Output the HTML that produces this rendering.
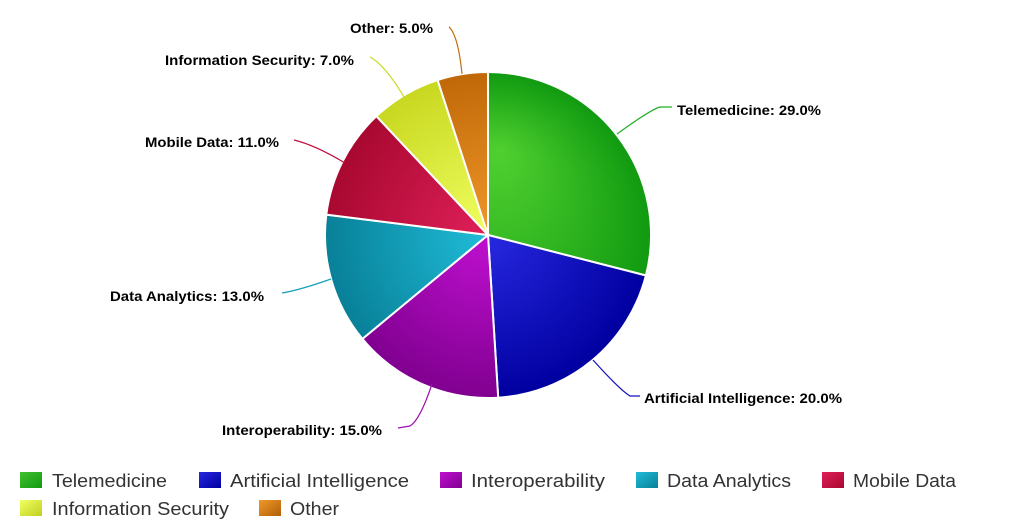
<!DOCTYPE html>
<html><head><meta charset="utf-8"><style>
body{margin:0;background:#fff;}
svg{display:block;font-family:"Liberation Sans",Arial,sans-serif;}
.lb{font-size:14px;font-weight:bold;fill:#000;}
.lg{font-size:18px;fill:#333;}
</style></head><body>
<svg width="1013" height="526" viewBox="0 0 1013 526">
<defs>
<radialGradient id="g0" cx="488" cy="235" r="163" fx="500" fy="150" gradientUnits="userSpaceOnUse"><stop offset="0" stop-color="#50d030"/><stop offset="1" stop-color="#109a10"/></radialGradient>
<radialGradient id="g1" cx="488" cy="235" r="163" gradientUnits="userSpaceOnUse"><stop offset="0" stop-color="#2828e0"/><stop offset="1" stop-color="#0000a0"/></radialGradient>
<radialGradient id="g2" cx="488" cy="235" r="163" gradientUnits="userSpaceOnUse"><stop offset="0" stop-color="#c010d0"/><stop offset="1" stop-color="#800090"/></radialGradient>
<radialGradient id="g3" cx="488" cy="235" r="163" gradientUnits="userSpaceOnUse"><stop offset="0" stop-color="#20bcd8"/><stop offset="1" stop-color="#088098"/></radialGradient>
<radialGradient id="g4" cx="488" cy="235" r="163" gradientUnits="userSpaceOnUse"><stop offset="0" stop-color="#e0205a"/><stop offset="1" stop-color="#a80830"/></radialGradient>
<radialGradient id="g5" cx="488" cy="235" r="163" gradientUnits="userSpaceOnUse"><stop offset="0" stop-color="#f0ff60"/><stop offset="1" stop-color="#c8d820"/></radialGradient>
<radialGradient id="g6" cx="488" cy="235" r="163" gradientUnits="userSpaceOnUse"><stop offset="0" stop-color="#f09828"/><stop offset="1" stop-color="#c06808"/></radialGradient>
<linearGradient id="l0" x1="0" y1="0" x2="1" y2="1"><stop offset="0" stop-color="#40c030"/><stop offset="1" stop-color="#109a10"/></linearGradient>
<linearGradient id="l1" x1="0" y1="0" x2="1" y2="1"><stop offset="0" stop-color="#2828e0"/><stop offset="1" stop-color="#0000a0"/></linearGradient>
<linearGradient id="l2" x1="0" y1="0" x2="1" y2="1"><stop offset="0" stop-color="#c010d0"/><stop offset="1" stop-color="#800090"/></linearGradient>
<linearGradient id="l3" x1="0" y1="0" x2="1" y2="1"><stop offset="0" stop-color="#20bcd8"/><stop offset="1" stop-color="#088098"/></linearGradient>
<linearGradient id="l4" x1="0" y1="0" x2="1" y2="1"><stop offset="0" stop-color="#e0205a"/><stop offset="1" stop-color="#a80830"/></linearGradient>
<linearGradient id="l5" x1="0" y1="0" x2="1" y2="1"><stop offset="0" stop-color="#f0ff60"/><stop offset="1" stop-color="#c0d020"/></linearGradient>
<linearGradient id="l6" x1="0" y1="0" x2="1" y2="1"><stop offset="0" stop-color="#f09828"/><stop offset="1" stop-color="#b06008"/></linearGradient>
</defs>
<g stroke="#fff" stroke-width="2">
<path d="M488 235 L488 72 A163 163 0 0 1 645.9 275.5 Z" fill="url(#g0)"/>
<path d="M488 235 L645.9 275.5 A163 163 0 0 1 498.2 397.7 Z" fill="url(#g1)"/>
<path d="M488 235 L498.2 397.7 A163 163 0 0 1 362.4 338.9 Z" fill="url(#g2)"/>
<path d="M488 235 L362.4 338.9 A163 163 0 0 1 326.3 214.6 Z" fill="url(#g3)"/>
<path d="M488 235 L326.3 214.6 A163 163 0 0 1 376.4 116.2 Z" fill="url(#g4)"/>
<path d="M488 235 L376.4 116.2 A163 163 0 0 1 437.6 80 Z" fill="url(#g5)"/>
<path d="M488 235 L437.6 80 A163 163 0 0 1 488 72 Z" fill="url(#g6)"/>
</g>
<g fill="none" stroke-width="1.2">
<path d="M617 134 Q650 110 660 107 L672 107" stroke="#20b020"/>
<path d="M593 360 Q620 390 630 396 L640 396" stroke="#1010c0"/>
<path d="M432 384 Q420 420 410 426 L398 428" stroke="#a010b0"/>
<path d="M331 279 Q300 290 282 293" stroke="#18a0b8"/>
<path d="M345 163 Q315 145 294 140" stroke="#c0103e"/>
<path d="M404 97 Q385 65 370 57" stroke="#c8d820"/>
<path d="M462 74 Q458 35 449 27" stroke="#c07010"/>
</g>
<text class="lb" x="677" y="115" textLength="144" lengthAdjust="spacingAndGlyphs">Telemedicine: 29.0%</text>
<text class="lb" x="644" y="403" textLength="198" lengthAdjust="spacingAndGlyphs">Artificial Intelligence: 20.0%</text>
<text class="lb" x="222" y="435" textLength="160" lengthAdjust="spacingAndGlyphs">Interoperability: 15.0%</text>
<text class="lb" x="110" y="301" textLength="154" lengthAdjust="spacingAndGlyphs">Data Analytics: 13.0%</text>
<text class="lb" x="145" y="147" textLength="134" lengthAdjust="spacingAndGlyphs">Mobile Data: 11.0%</text>
<text class="lb" x="165" y="65" textLength="189" lengthAdjust="spacingAndGlyphs">Information Security: 7.0%</text>
<text class="lb" x="350" y="33" textLength="83" lengthAdjust="spacingAndGlyphs">Other: 5.0%</text>
<g>
<rect x="20" y="472" width="22" height="16" fill="url(#l0)"/><text class="lg" x="52" y="487" textLength="115" lengthAdjust="spacingAndGlyphs">Telemedicine</text>
<rect x="199" y="472" width="22" height="16" fill="url(#l1)"/><text class="lg" x="230" y="487" textLength="179" lengthAdjust="spacingAndGlyphs">Artificial Intelligence</text>
<rect x="440" y="472" width="22" height="16" fill="url(#l2)"/><text class="lg" x="471" y="487" textLength="134" lengthAdjust="spacingAndGlyphs">Interoperability</text>
<rect x="636" y="472" width="22" height="16" fill="url(#l3)"/><text class="lg" x="667" y="487" textLength="124" lengthAdjust="spacingAndGlyphs">Data Analytics</text>
<rect x="822" y="472" width="22" height="16" fill="url(#l4)"/><text class="lg" x="853" y="487" textLength="103" lengthAdjust="spacingAndGlyphs">Mobile Data</text>
<rect x="20" y="500" width="22" height="16" fill="url(#l5)"/><text class="lg" x="52" y="515" textLength="177" lengthAdjust="spacingAndGlyphs">Information Security</text>
<rect x="259" y="500" width="22" height="16" fill="url(#l6)"/><text class="lg" x="290" y="515" textLength="49" lengthAdjust="spacingAndGlyphs">Other</text>
</g>
</svg>
</body></html>
